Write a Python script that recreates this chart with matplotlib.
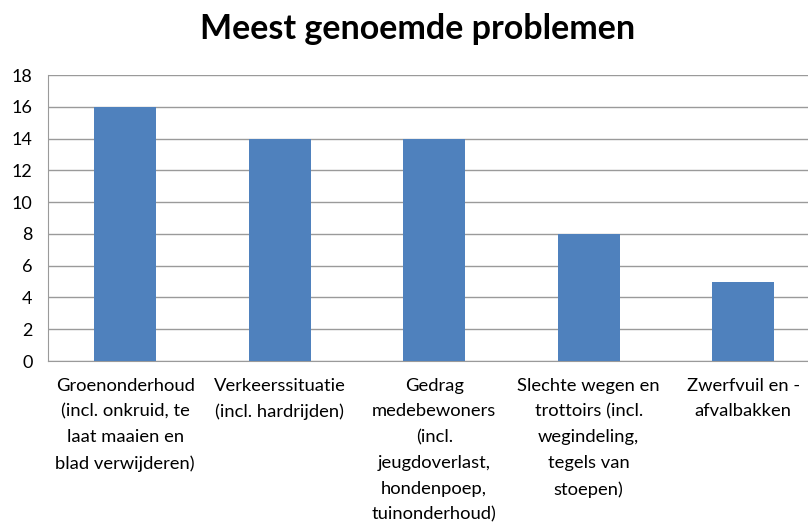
import matplotlib

matplotlib.use("Agg")
import matplotlib.pyplot as plt
import numpy as np

plt.rcParams["font.family"] = ["Lato", "DejaVu Sans"]

categories = [
    "Groenonderhoud\n(incl. onkruid, te\nlaat maaien en\nblad verwijderen)",
    "Verkeerssituatie\n(incl. hardrijden)",
    "Gedrag\nmedebewoners\n(incl.\njeugdoverlast,\nhondenpoep,\ntuinonderhoud)",
    "Slechte wegen en\ntrottoirs (incl.\nwegindeling,\ntegels van\nstoepen)",
    "Zwerfvuil en -\nafvalbakken",
]
counts = [16, 14, 14, 8, 5]
yticks = list(range(0, 20, 2))

W, H = 808, 522
fig = plt.figure(figsize=(W / 100, H / 100), dpi=100)
ax = fig.add_axes([48 / W, (H - 361) / H, (W - 48) / W, (361 - 75) / H])

x = np.arange(len(categories))
ax.bar(x, counts, 0.4, color="#4F81BD", zorder=3)
ax.set_xlim(-0.5, len(categories) - 0.5 - 12.5 / 154.5)
ax.set_ylim(0, 18)
ax.set_yticks(yticks)
ax.grid(axis="y", color="#9a9a9a", linewidth=1, zorder=0)
for side in ("top", "right"):
    ax.spines[side].set_visible(False)
for side in ("left", "bottom"):
    ax.spines[side].set_color("#9a9a9a")
ax.tick_params(axis="y", length=0, pad=11, labelsize=13, labelcolor="#000000")
ax.set_xticks([])

# category labels, wrapped as in the original
for xi, lab in zip(x, categories):
    ax.annotate(lab, xy=(xi, 0), xycoords="data", xytext=(0, -12),
                textcoords="offset points", ha="center", va="top",
                fontsize=13.2, linespacing=1.75)

fig.text(418 / W, 1 - 29 / H, "Meest genoemde problemen", ha="center",
         va="center", fontsize=24.5, fontweight="bold")

fig.savefig("out.png", dpi=100)
